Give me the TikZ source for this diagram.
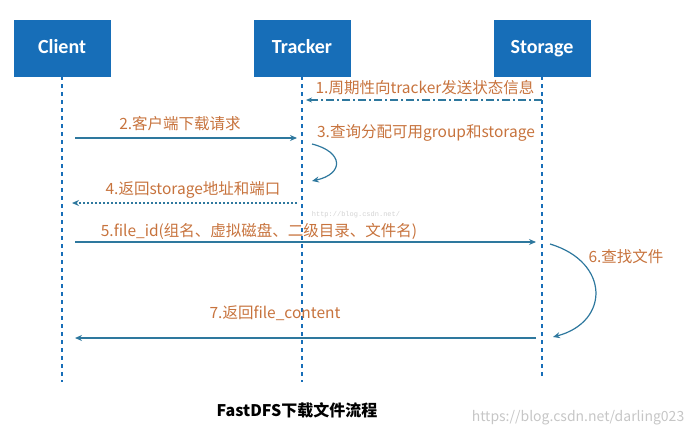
\documentclass[tikz,border=0pt]{standalone}
\usepackage{fontspec}
\setmainfont{Noto Sans CJK SC}
\newfontfamily\boxfont{Carlito}
\newfontfamily\markfont{Liberation Mono}
\usetikzlibrary{arrows.meta,calc}
\definecolor{BoxClr}{rgb}{0.09,0.43,0.72}
\definecolor{LineClr}{rgb}{0.18,0.47,0.62}
\definecolor{TextClr}{rgb}{0.78,0.45,0.24}

\begin{document}
\begin{tikzpicture}[x=1pt,y=-1pt,
  actor/.style={draw=BoxClr,fill=BoxClr,text=white,minimum width=96pt,minimum height=56pt,
    text height=1em,text depth=0pt,font=\boxfont\bfseries\fontsize{20}{20}\selectfont},
  life/.style={BoxClr,line width=1.6pt,dash pattern=on 4pt off 4pt},
  msg/.style={LineClr,line width=1.2pt,-{Stealth[length=7pt,width=6pt]}},
  lbl/.style={TextClr,inner sep=0pt,font=\fontsize{15.5}{15.5}\selectfont}]
\useasboundingbox (0,0) rectangle (692,436);

\node[actor] (client) at (62,48) {Client};
\node[actor] (tracker) at (302,48) {Tracker};
\node[actor] (storage) at (542,48) {Storage};

\coordinate (client-end) at (client |- 0,382);
\coordinate (tracker-end) at (tracker |- 0,382);
\coordinate (storage-end) at (storage |- 0,378);

\draw[life] (client) -- (client-end);
\draw[life] (tracker) -- (tracker-end);
\draw[life] (storage) -- (storage-end);

% points on the lifelines
\coordinate (s1) at (storage |- 0,100);
\coordinate (t1) at (tracker |- 0,100);
\coordinate (c2) at (client |- 0,138);
\coordinate (t2) at (tracker |- 0,138);
\coordinate (c4) at (client |- 0,203);
\coordinate (t4) at (tracker |- 0,203);
\coordinate (c5) at (client |- 0,242);
\coordinate (s5) at (storage |- 0,242);
\coordinate (c7) at (client |- 0,338);
\coordinate (s7) at (storage |- 0,338);

\draw[msg,dash pattern=on 8pt off 3pt on 2pt off 3pt,shorten >=4pt,-{Stealth[length=6pt,width=5pt]}] (s1) -- (t1);
\draw[msg,shorten <=13pt,shorten >=5pt] (c2) -- (t2);
\draw[msg,dash pattern=on 2pt off 2pt,shorten <=5pt,shorten >=10pt] (t4) -- (c4);
\draw[msg,shorten <=13pt,shorten >=6pt] (c5) -- (s5);
\draw[msg,shorten <=6pt,shorten >=13pt] (s7) -- (c7);

\draw[msg] ($(t2)+(10,6)$) .. controls (344,152) and (344,174) .. ($(t4)+(10,-22)$);
\draw[msg] ($(s5)+(8,2)$) .. controls (610,262) and (610,322) .. ($(s7)+(11,-1)$);

\node[lbl] (l1) at (425,88) {1.周期性向tracker发送状态信息};
\node[lbl] (l2) at (180,124) {2.客户端下载请求};
\node[lbl] (l3) at (426,133) {3.查询分配可用group和storage};
\node[lbl] (l4) at (193,190) {4.返回storage地址和端口};
\node[lbl] (l5) at (259,231) {5.file\_id(组名、虚拟磁盘、二级目录、文件名)};
\node[lbl] (l6) at (626,257) {6.查找文件};
\node[lbl] (l7) at (275,313) {7.返回file\_content};

\node[font=\bfseries\fontsize{16}{16}\selectfont] (title) at (297,410) {FastDFS下载文件流程};

\node[gray!35,font=\markfont\fontsize{7}{7}\selectfont] (mark1) at (356,215) {http://blog.csdn.net/};
\node[gray!45,font=\fontsize{14}{14}\selectfont] (mark2) at (578,418) {https://blog.csdn.net/darling023};
\end{tikzpicture}
\end{document}
